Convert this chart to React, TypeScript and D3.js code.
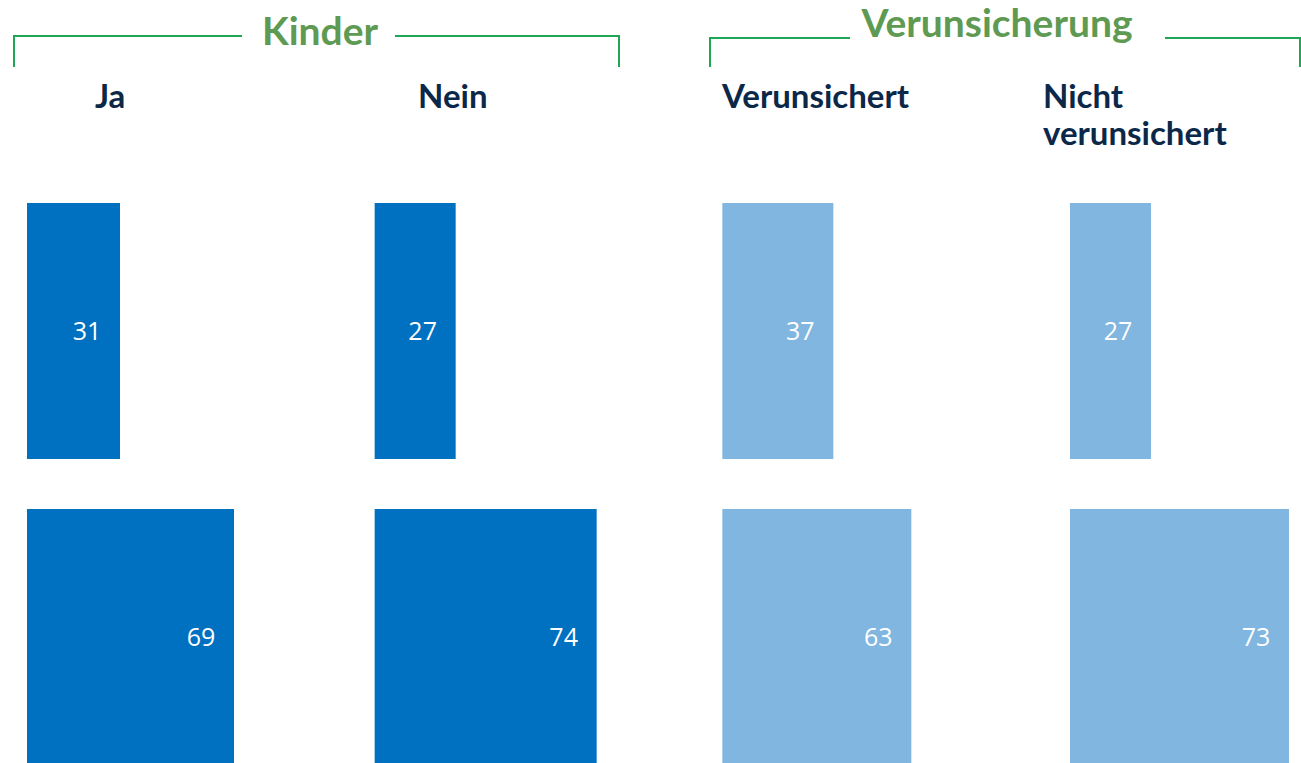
import React from "react";
import * as d3 from "d3";

const categories = ["Ja", "Nein", "Verunsichert", "Nicht verunsichert"];
const headerLines = [["Ja"], ["Nein"], ["Verunsichert"], ["Nicht", "verunsichert"]];
const topValues = [31, 27, 37, 27];
const bottomValues = [69, 74, 63, 73];
const groupOf = [0, 0, 1, 1];
const groups = ["Kinder", "Verunsicherung"];
const rows = ["top", "bottom"];

const W = 1301;
const H = 763;
const DARK = "#0070c0";
const LIGHT = "#80b6df";
const NAVY = "#0c2849";
const GREEN_TEXT = "#5e9a52";
const GREEN_LINE = "#21a656";

export default function App() {
  const xCol = d3.scalePoint<string>().domain(categories).range([27, 1070]);
  const wScale = d3.scaleLinear().domain([0, 100]).range([0, 300]);
  const yRow = d3.scaleBand<string>().domain(rows).range([203, 765]).paddingInner(50 / 306);
  const font = "Lato, 'Open Sans', sans-serif";

  const brackets = [
    { x0: 14, x1: 619, tl: 242, tr: 395, y: 36, tx: 320, ty: 45 },
    { x0: 710, x1: 1300, tl: 850, tr: 1165, y: 38, tx: 997, ty: 37 },
  ];

  return (
    <svg width={W} height={H} style={{ position: "absolute", left: 0, top: 0, background: "#fff" }}>
      {brackets.map((b, i) => (
        <g key={i}>
          <path
            d={`M${b.x0},67 V${b.y} H${b.tl} M${b.tr},${b.y} H${b.x1} V67`}
            fill="none"
            stroke={GREEN_LINE}
            strokeWidth={2}
          />
          <text x={b.tx} y={b.ty} textAnchor="middle" fontFamily={font} fontWeight={700} fontSize={39} fill={GREEN_TEXT}>
            {groups[i]}
          </text>
        </g>
      ))}
      {categories.map((c, i) => {
        const x = xCol(c)!;
        const color = groupOf[i] === 0 ? DARK : LIGHT;
        const hx = [95, 418, 722, 1043][i];
        return (
          <g key={c}>
            {headerLines[i].map((ln, j) => (
              <text key={j} x={hx} y={108 + j * 37} fontFamily={font} fontWeight={700} fontSize={33} fill={NAVY}>
                {ln}
              </text>
            ))}
            {[topValues[i], bottomValues[i]].map((v, r) => {
              const y = yRow(rows[r])!;
              const w = wScale(v);
              return (
                <g key={r}>
                  <rect x={x} y={y} width={w} height={yRow.bandwidth()} fill={color} />
                  <text
                    x={x + w - 33}
                    y={y + yRow.bandwidth() / 2 + 9}
                    textAnchor="middle"
                    fontFamily="'Open Sans', sans-serif"
                    fontSize={25}
                    fill="#fff"
                  >
                    {v}
                  </text>
                </g>
              );
            })}
          </g>
        );
      })}
    </svg>
  );
}
